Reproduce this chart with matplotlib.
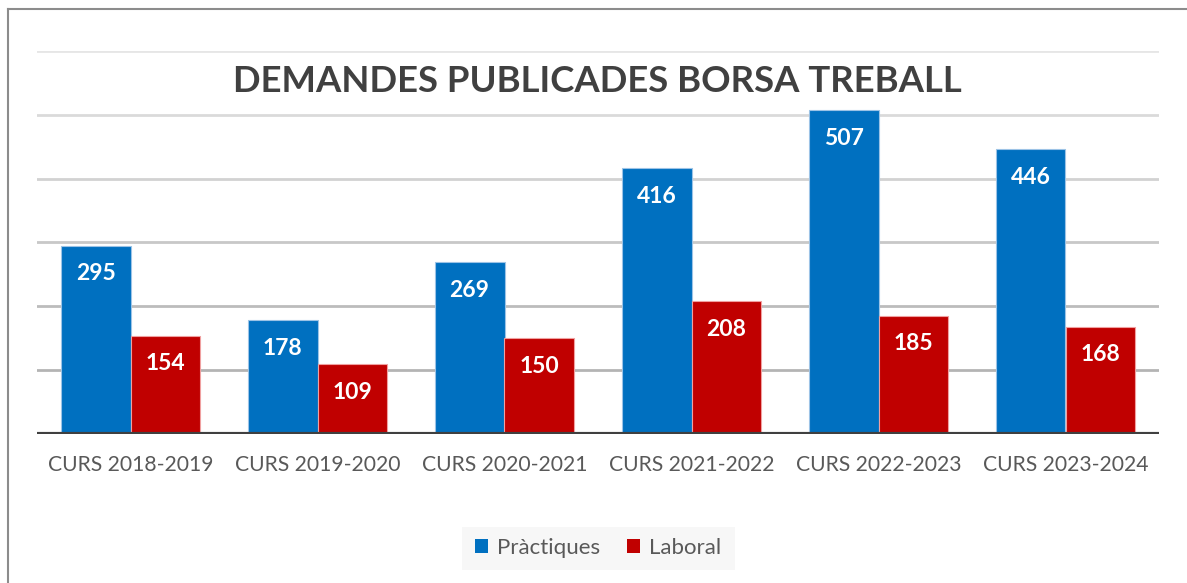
import matplotlib
matplotlib.use("Agg")
import matplotlib.pyplot as plt
import numpy as np
from matplotlib.patches import Rectangle

categories = ["CURS 2018-2019", "CURS 2019-2020", "CURS 2020-2021",
              "CURS 2021-2022", "CURS 2022-2023", "CURS 2023-2024"]
practiques = [295, 178, 269, 416, 507, 446]
laboral = [154, 109, 150, 208, 185, 168]
series_names = ["Pràctiques", "Laboral"]
title = "DEMANDES PUBLICADES BORSA TREBALL"

BLUE = "#0070C0"
RED = "#C00000"
FONT = "Lato"

W, H = 1187, 583
fig = plt.figure(figsize=(W / 100, H / 100), dpi=100)
fig.patch.set_facecolor("white")

# outer frame (top and left edges visible)
fig.add_artist(plt.Line2D([8 / W, 8 / W], [0, 1 - 9 / H], color="#8c8c8c", lw=1.5))
fig.add_artist(plt.Line2D([8 / W, 1], [1 - 9 / H, 1 - 9 / H], color="#8c8c8c", lw=1.5))

left, right = 37 / W, 1159 / W
bottom, top = 1 - 434 / H, 1 - 51 / H
ax = fig.add_axes([left, bottom, right - left, top - bottom])
ax.set_xlim(-0.5, len(categories) - 0.5)
ax.set_ylim(0, 600)
for s in ax.spines.values():
    s.set_visible(False)
ax.set_yticks([])
ax.tick_params(axis="x", length=0, pad=15)

grid_colors = {100: "#b4b4b4", 200: "#bcbcbc", 300: "#c8c8c8",
               400: "#d2d2d2", 500: "#dadada", 600: "#e6e6e6"}
for v, c in grid_colors.items():
    ax.axhline(v, color=c, lw=2, zorder=0)
ax.axhline(0, color="#404040", lw=3, zorder=3)

x = np.arange(len(categories))
bw = 0.374
b1 = ax.bar(x - bw / 2, practiques, bw, color=BLUE, edgecolor="#9cc3e6",
            linewidth=0.8, zorder=2, label=series_names[0])
b2 = ax.bar(x + bw / 2, laboral, bw, color=RED, edgecolor="#f0a0a0",
            linewidth=0.8, zorder=2, label=series_names[1])

for bars, vals in ((b1, practiques), (b2, laboral)):
    for rect, v in zip(bars, vals):
        ax.annotate(str(v), (rect.get_x() + rect.get_width() / 2, v),
                    xytext=(0, -28), textcoords="offset pixels",
                    ha="center", va="center", color="white",
                    fontsize=16.5, fontweight="bold", family=FONT, zorder=4)

ax.set_xticks(x)
ax.set_xticklabels(categories, fontsize=15.2, color="#595959", family=FONT)

fig.text((233 + 962) / 2 / W, 1 - 82 / H, title, ha="center", va="center",
         fontsize=26.3, fontweight="bold", color="#404040", family=FONT)

# legend background box
fig.add_artist(Rectangle((462 / W, 1 - 570 / H), (735 - 462) / W, 43 / H,
                         transform=fig.transFigure, facecolor="#f7f7f7",
                         edgecolor="none", zorder=0))
leg = fig.legend(handles=[b1, b2], labels=series_names, loc="center",
                 bbox_to_anchor=(598 / W, 1 - 548 / H), ncol=2, frameon=False,
                 handlelength=0.6, handleheight=0.6, handletextpad=0.4,
                 columnspacing=1.2,
                 prop={"family": FONT, "size": 16})
for t in leg.get_texts():
    t.set_color("#595959")
for h in leg.legend_handles:
    h.set_edgecolor("none")

fig.savefig("out.png", dpi=100, facecolor="white")
